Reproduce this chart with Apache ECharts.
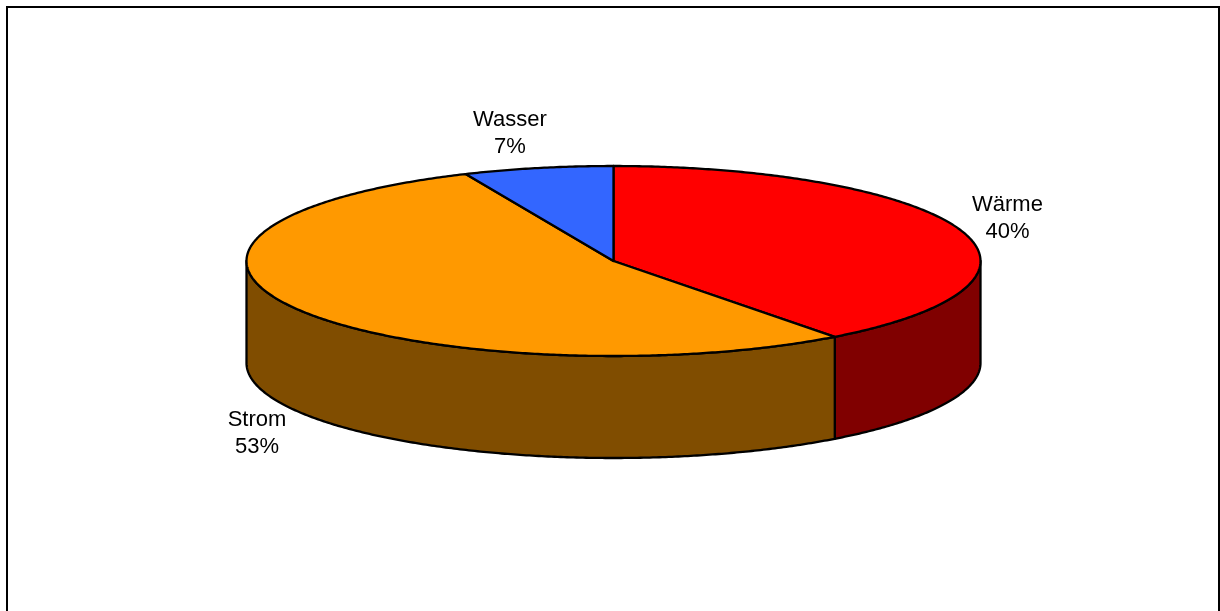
<!DOCTYPE html>
<html>
<head>
<meta charset="utf-8">
<style>html,body{margin:0;padding:0;background:#fff;overflow:hidden}#c{width:1220px;height:611px}</style>
<script src="https://cdn.jsdelivr.net/npm/echarts@6/dist/echarts.min.js"></script>
</head>
<body>
<div id="c"></div>
<script>
const categories = ['Wärme', 'Strom', 'Wasser'];
const shares = [39.7, 53.7, 6.6];
const percentLabels = ['40%', '53%', '7%'];
const topColors = ['#ff0000', '#ff9900', '#3366ff'];
const wallColors = ['#800000', '#804d00', '#1a3380'];
const labelOffsets = [[46, -12.8], [-40, 124.5], [-28, -34.5]];

const CX = 613.5, CY = 261, RX = 367, RY = 95, DEPTH = 102;
const total = shares.reduce((a, b) => a + b, 0);
const starts = [];
shares.reduce((acc, v, i) => { starts[i] = acc; return acc + v; }, 0);

function pt(deg, dy) {
  const r = deg * Math.PI / 180;
  return [CX + RX * Math.sin(r), CY - RY * Math.cos(r) + (dy || 0)];
}
function arc(a0, a1, dy) {
  const out = [], n = Math.max(2, Math.ceil(Math.abs(a1 - a0) * 2));
  for (let i = 0; i <= n; i++) out.push(pt(a0 + (a1 - a0) * i / n, dy));
  return out;
}
const lineStyle = { stroke: '#000', lineWidth: 2.3, lineJoin: 'round' };

function renderItem(params, api) {
  const i = params.dataIndex;
  const a0 = api.value(1) / total * 360;
  const a1 = a0 + api.value(2) / total * 360;
  const children = [];
  const w0 = Math.max(a0, 90), w1 = Math.min(a1, 270);
  if (w1 > w0) {
    children.push({
      type: 'polygon', z2: 1,
      shape: { points: arc(w0, w1, 0).concat(arc(w1, w0, DEPTH)) },
      style: Object.assign({ fill: wallColors[i] }, lineStyle)
    });
  }
  children.push({
    type: 'polygon', z2: 2,
    shape: { points: [[CX, CY]].concat(arc(a0, a1, 0)) },
    style: Object.assign({ fill: topColors[i] }, lineStyle)
  });
  const m = pt((a0 + a1) / 2, 0);
  children.push({
    type: 'text', z2: 3,
    style: {
      x: m[0] + labelOffsets[i][0],
      y: m[1] + labelOffsets[i][1],
      text: categories[i] + '\n' + percentLabels[i],
      align: 'center', verticalAlign: 'middle',
      font: '22px "Liberation Sans", Arial, sans-serif',
      lineHeight: 27, fill: '#000'
    }
  });
  return { type: 'group', children };
}

const chart = echarts.init(document.getElementById('c'), null, { renderer: 'canvas' });
chart.setOption({
  animation: false,
  backgroundColor: '#ffffff',
  graphic: [{
    type: 'rect', silent: true, z: -1,
    shape: { x: 7, y: 7, width: 1212, height: 640 },
    style: { fill: '#fff', stroke: '#000', lineWidth: 2 }
  }],
  series: [{
    type: 'custom',
    coordinateSystem: 'none',
    silent: true,
    renderItem,
    data: categories.map((c, i) => [c, starts[i], shares[i]])
  }]
});
</script>
</body>
</html>
